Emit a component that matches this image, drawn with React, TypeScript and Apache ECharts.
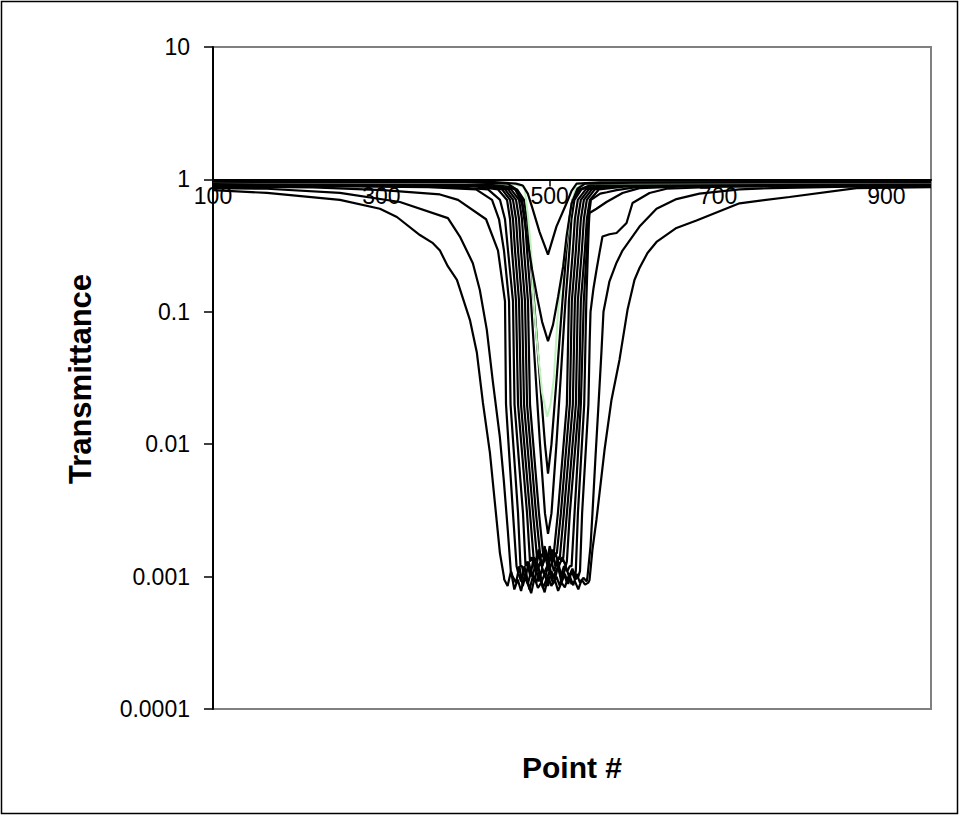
import React, { useEffect, useRef } from "react";
import * as echarts from "echarts";

type Pt = [number, number];

// Axis ticks
const xTicks = [100, 300, 500, 700, 900];
const xMin = 100;
const xMax = 953;
const yMin = 0.0001;
const yMax = 10;

// Transmittance traces, widest (deepest) first: [point #, transmittance]
const curveA: Pt[] = [
  [100, 0.83], [164.1, 0.79], [250.8, 0.7], [298.3, 0.6], [318.5, 0.52], [345.8, 0.38], [361.3, 0.33],
  [369.6, 0.29], [379.1, 0.22], [389.8, 0.174], [405.2, 0.087], [413.5, 0.049], [420.7, 0.0205],
  [429, 0.0086], [434.9, 0.0036], [440.9, 0.0015], [445.6, 0.001],
  [446, 0.00095], [450, 0.00085], [454, 0.0011], [458, 0.0008], [462, 0.00095], [466, 0.00078],
  [470, 0.001], [474, 0.00088], [478, 0.00075], [482, 0.00098], [486, 0.00082], [490, 0.0009],
  [494, 0.00076], [498, 0.001], [502, 0.00085], [506, 0.00095], [510, 0.00078], [514, 0.0009],
  [518, 0.00083], [522, 0.001], [526, 0.00088], [530, 0.00092], [534, 0.0008], [538, 0.00095],
  [542, 0.00087], [546, 0.0009],
  [547.3, 0.00094], [550.8, 0.0016], [555.6, 0.0027], [565.1, 0.009], [573.4, 0.0216], [582.9, 0.0433],
  [592.4, 0.103], [600.7, 0.174], [606.7, 0.214], [616.2, 0.278], [626.9, 0.337], [650.6, 0.43],
  [674.4, 0.49], [725.5, 0.66], [784.9, 0.736], [864.4, 0.86], [953, 0.875],
];

const curveB: Pt[] = [
  [100, 0.86], [164.1, 0.85], [250.8, 0.79], [322.1, 0.675], [379.1, 0.51], [393.3, 0.37], [408.7, 0.233],
  [417, 0.146], [425.3, 0.073], [432.4, 0.03], [440.8, 0.0113], [445.5, 0.0053], [450.3, 0.0022],
  [453.8, 0.0011],
  [456, 0.001], [460, 0.0009], [464, 0.0012], [468, 0.00085], [472, 0.00105], [476, 0.0008],
  [480, 0.001], [484, 0.0009], [488, 0.0011], [492, 0.00082], [496, 0.00095], [500, 0.0011],
  [504, 0.00088], [508, 0.001], [512, 0.00085], [516, 0.0011], [520, 0.00092], [524, 0.001],
  [528, 0.00086], [532, 0.00105], [536, 0.0009], [540, 0.00098], [544, 0.00092],
  [544.9, 0.001], [548.5, 0.0017], [550.8, 0.003], [554.4, 0.008], [558, 0.02], [561.5, 0.05],
  [563.9, 0.1], [571, 0.17], [579.4, 0.235], [586.5, 0.29], [606.7, 0.44], [626.9, 0.6], [650.6, 0.71],
  [677.9, 0.78], [725.5, 0.84], [764.6, 0.86], [856, 0.88], [953, 0.885],
];

const curveC: Pt[] = [
  [100, 0.88], [218.8, 0.87], [301.9, 0.83], [369.6, 0.77], [391.1, 0.7], [424.4, 0.5], [438.6, 0.29],
  [446.9, 0.12], [448.1, 0.02], [456.4, 0.003], [460.6, 0.0012],
  [462, 0.0011], [466, 0.00092], [470, 0.0012], [474, 0.00088], [478, 0.0011], [482, 0.00095],
  [486, 0.00125], [490, 0.0009], [494, 0.00105], [498, 0.00085], [502, 0.0011], [506, 0.00095],
  [510, 0.0012], [514, 0.0009], [518, 0.00105], [522, 0.00088], [526, 0.0011], [530, 0.00095],
  [534, 0.001],
  [536, 0.0011], [538.5, 0.003], [546, 0.02], [547.5, 0.06], [548.5, 0.1], [552, 0.15], [555.6, 0.207],
  [559.2, 0.28], [562.7, 0.37], [571, 0.385], [579.4, 0.394], [591.3, 0.468], [598.4, 0.663],
  [618.6, 0.79], [638.8, 0.85], [701.7, 0.88], [796.7, 0.89], [953, 0.895],
];

const curveD: Pt[] = [
  [100, 0.89], [262.7, 0.885], [355.5, 0.875], [412.5, 0.84], [431.5, 0.7], [439.8, 0.5], [445.7, 0.29],
  [451.7, 0.12], [453.5, 0.02], [462.4, 0.003], [465.3, 0.0012],
  [467, 0.0012], [471, 0.00095], [475, 0.0013], [479, 0.001], [483, 0.0012], [487, 0.00092],
  [491, 0.00115], [495, 0.001], [499, 0.0013], [503, 0.00095], [507, 0.0011], [511, 0.0012],
  [515, 0.00095], [519, 0.0012], [523, 0.001], [527, 0.00115], [530, 0.001],
  [531, 0.0011], [533.5, 0.003], [541, 0.02], [543.5, 0.12], [545.5, 0.3], [546.5, 0.45], [547.3, 0.558],
  [555.6, 0.6], [567.5, 0.675], [586.5, 0.79], [606.7, 0.86], [654.2, 0.88], [749.2, 0.895], [953, 0.9],
];

const curveE: Pt[] = [
  [100, 0.9], [300, 0.895], [379.2, 0.88], [426.7, 0.84], [441, 0.7], [446.9, 0.5], [450.5, 0.29],
  [456.4, 0.12], [458.2, 0.02], [468.3, 0.003], [471.3, 0.0012],
  [473, 0.0013], [477, 0.001], [481, 0.0014], [485, 0.0011], [489, 0.0013], [493, 0.00105],
  [497, 0.0012], [501, 0.0014], [505, 0.0011], [509, 0.0013], [513, 0.001], [517, 0.0012],
  [521, 0.0011], [524, 0.0012],
  [526, 0.0012], [529.5, 0.003], [537, 0.02], [540.5, 0.12], [544, 0.29], [546, 0.5], [549, 0.7],
  [560, 0.78], [568, 0.8], [579.4, 0.83], [606.7, 0.88], [677.9, 0.9], [953, 0.905],
];

const curveF: Pt[] = [
  [100, 0.91], [300, 0.905], [408.9, 0.89], [438.6, 0.84], [449.3, 0.7], [452.9, 0.5], [455.2, 0.29],
  [460, 0.12], [462.4, 0.02], [473.1, 0.003], [476.6, 0.0013],
  [479, 0.0014], [483, 0.0011], [487, 0.0015], [491, 0.0012], [495, 0.0014], [499, 0.0011],
  [503, 0.0013], [507, 0.0015], [511, 0.0012], [515, 0.0014], [519, 0.0012],
  [520.4, 0.0013], [523.9, 0.003], [534.6, 0.02], [537, 0.12], [541.8, 0.29], [544.1, 0.5],
  [547.7, 0.7], [558.4, 0.84], [588.1, 0.88], [700, 0.905], [953, 0.91],
];

const curveG: Pt[] = [
  [100, 0.92], [320, 0.915], [417.2, 0.9], [443.4, 0.84], [452.9, 0.7], [456.4, 0.5], [458.8, 0.29],
  [463.6, 0.12], [465.9, 0.02], [476.6, 0.003], [480.8, 0.0014],
  [483, 0.0013], [487, 0.0016], [491, 0.0012], [495, 0.0015], [499, 0.0013], [503, 0.0016],
  [507, 0.0012], [511, 0.0014], [515, 0.0013],
  [516.2, 0.0014], [520.4, 0.003], [531.1, 0.02], [533.4, 0.12], [538.2, 0.29], [540.6, 0.5],
  [544.1, 0.7], [553.6, 0.84], [579.8, 0.89], [680, 0.91], [953, 0.915],
];

const curveH: Pt[] = [
  [100, 0.93], [340, 0.925], [424.4, 0.91], [446.9, 0.84], [456.4, 0.7], [460, 0.5], [462.4, 0.29],
  [467.1, 0.12], [469.5, 0.02], [480.2, 0.003], [484.9, 0.0014],
  [487, 0.0015], [491, 0.0012], [495, 0.0016], [499, 0.0013], [503, 0.0015], [507, 0.0012],
  [511, 0.0014],
  [512.1, 0.0014], [516.8, 0.003], [527.5, 0.02], [529.9, 0.12], [534.6, 0.29], [537, 0.5],
  [540.6, 0.7], [550.1, 0.84], [572.6, 0.9], [660, 0.915], [953, 0.92],
];

const curveI: Pt[] = [
  [100, 0.935], [350, 0.93], [430.3, 0.915], [450.5, 0.84], [460, 0.7], [463.6, 0.5], [465.9, 0.29],
  [470.7, 0.12], [473.1, 0.02], [483.7, 0.003], [488.5, 0.0015],
  [491, 0.0014], [494, 0.0017], [497, 0.0013], [500, 0.0016], [503, 0.0013], [506, 0.0015],
  [508.5, 0.0015], [513.3, 0.003], [523.9, 0.02], [526.3, 0.12], [531.1, 0.29], [533.4, 0.5],
  [537, 0.7], [546.5, 0.84], [566.7, 0.905], [640, 0.92], [953, 0.925],
];

const curveJ: Pt[] = [
  [100, 0.94], [360, 0.935], [436.2, 0.92], [454.1, 0.84], [463.6, 0.7], [467.1, 0.5], [469.5, 0.29],
  [474.2, 0.12], [476.6, 0.02], [487.3, 0.003], [492.1, 0.0015],
  [494, 0.0016], [497, 0.0013], [500, 0.0017], [503, 0.0014],
  [504.9, 0.0015], [509.7, 0.003], [520.4, 0.02], [522.8, 0.12], [527.5, 0.29], [529.9, 0.5],
  [533.4, 0.7], [542.9, 0.84], [560.8, 0.91], [620, 0.925], [953, 0.93],
];

const curveK: Pt[] = [
  [100, 0.945], [380, 0.94], [442.2, 0.92], [458.8, 0.84], [467.1, 0.7], [470.7, 0.5], [473.1, 0.29],
  [477.8, 0.12], [483.7, 0.03], [488.5, 0.01], [494.4, 0.003], [498, 0.0021], [502.1, 0.003],
  [508, 0.01], [512.8, 0.03], [518.7, 0.12], [523.4, 0.29], [525.8, 0.5], [529.4, 0.7], [537.7, 0.84],
  [554.3, 0.915], [620, 0.93], [953, 0.935],
];

const curveL: Pt[] = [
  [100, 0.95], [400, 0.945], [445.7, 0.925], [461.2, 0.84], [469.5, 0.7], [473.1, 0.5], [476.6, 0.29],
  [481.4, 0.12], [488.5, 0.03], [494.4, 0.01], [498, 0.006], [502.1, 0.01], [508, 0.03], [515.1, 0.12],
  [519.9, 0.29], [523.4, 0.5], [527, 0.7], [535.3, 0.84], [550.8, 0.92], [620, 0.935], [953, 0.94],
];

const curveM: Pt[] = [
  [100, 0.955], [430, 0.945], [462, 0.9], [470, 0.88], [474, 0.54], [478, 0.29], [480, 0.146], [485, 0.058],
  [491, 0.0245], [497, 0.0161], [501, 0.02], [505, 0.032], [510, 0.103], [516, 0.225], [522, 0.415],
  [526, 0.66], [531, 0.86], [542, 0.93], [953, 0.945],
];

const curveN: Pt[] = [
  [100, 0.96], [400, 0.955], [450, 0.93], [459, 0.85], [467, 0.66], [473, 0.37], [479, 0.21], [485, 0.13],
  [491, 0.084], [498, 0.06], [504, 0.08], [510, 0.13], [516, 0.22], [520, 0.37], [526, 0.66], [533, 0.85],
  [542, 0.93], [600, 0.945], [953, 0.95],
];

const curveO: Pt[] = [
  [100, 0.965], [300, 0.965], [430, 0.96], [460, 0.93], [468, 0.9], [474, 0.78], [479, 0.62], [488, 0.4],
  [498, 0.27], [508, 0.44], [520, 0.66], [526, 0.82], [532, 0.93], [560, 0.95], [953, 0.955],
];

const blackCurves: Pt[][] = [
  curveA, curveB, curveC, curveD, curveE, curveF, curveG, curveH, curveI, curveJ, curveK, curveL,
];
const greenCurve = curveM;
const shallowCurves: Pt[][] = [curveN, curveO];

const FONT = '"Liberation Sans", Arial, Helvetica, sans-serif';

function fmtDecade(v: number): string {
  const e = Math.round(Math.log10(v));
  if (e >= 0) return String(Math.pow(10, e));
  return "0." + "0".repeat(-e - 1) + "1";
}

export default function App() {
  const ref = useRef<HTMLDivElement>(null);

  useEffect(() => {
    if (!ref.current) return;
    const chart = echarts.init(ref.current, undefined, { renderer: "svg" });

    const lineSeries = (data: Pt[], color: string, width: number) => ({
      type: "line" as const,
      data,
      showSymbol: false,
      symbol: "none",
      lineStyle: { color, width },
      silent: true,
      z: 3,
    });

    const series = [
      ...blackCurves.map((d) => lineSeries(d, "#000000", 2.2)),
      lineSeries(greenCurve, "#bdf2bd", 2),
      ...shallowCurves.map((d) => lineSeries(d, "#000000", 2.2)),
    ];

    const gridTop = 47;
    const gridHeight = 662;
    // the horizontal axis crosses the log axis at transmittance = 1
    const crossFrac = Math.log10(yMax / 1) / Math.log10(yMax / yMin);
    const xOffset = -(gridHeight - crossFrac * gridHeight);

    chart.setOption({
      animation: false,
      backgroundColor: "#ffffff",
      grid: {
        left: 213,
        top: gridTop,
        width: 718,
        height: gridHeight,
        show: true,
        borderColor: "#808080",
        borderWidth: 2,
        backgroundColor: "transparent",
        containLabel: false,
      },
      xAxis: {
        type: "value",
        min: xMin,
        max: xMax,
        offset: xOffset,
        axisLine: { show: true, lineStyle: { color: "#000", width: 2 } },
        axisTick: { show: true, customValues: xTicks, length: 7, lineStyle: { color: "#000", width: 1.5 } },
        axisLabel: {
          customValues: xTicks,
          color: "#000",
          fontFamily: FONT,
          fontSize: 23,
          margin: 5,
        },
        splitLine: { show: false },
      },
      yAxis: {
        type: "log",
        logBase: 10,
        min: yMin,
        max: yMax,
        splitNumber: 5,
        axisLine: { show: true, lineStyle: { color: "#000", width: 2 } },
        axisTick: { show: true, length: 9, lineStyle: { color: "#000", width: 1.5 } },
        axisLabel: {
          color: "#000",
          fontFamily: FONT,
          fontSize: 23,
          margin: 23,
          formatter: (v: number) => fmtDecade(v),
        },
        splitLine: { show: false },
        minorTick: { show: false },
      },
      series,
      graphic: [
        {
          type: "rect",
          silent: true,
          shape: { x: 1.5, y: 1.5, width: 956, height: 812 },
          style: { fill: "none", stroke: "#000", lineWidth: 1.5 },
        },
        {
          type: "text",
          silent: true,
          x: 80,
          y: 379,
          rotation: Math.PI / 2,
          style: {
            text: "Transmittance",
            font: `bold 31px ${FONT}`,
            fill: "#000",
            align: "center",
            verticalAlign: "middle",
          },
        },
        {
          type: "text",
          silent: true,
          x: 572,
          y: 767,
          style: {
            text: "Point #",
            font: `bold 30px ${FONT}`,
            fill: "#000",
            align: "center",
            verticalAlign: "middle",
          },
        },
      ],
    });

    return () => chart.dispose();
  }, []);

  return (
    <div
      ref={ref}
      style={{ position: "absolute", left: 0, top: 0, width: 960, height: 816, background: "#fff" }}
    />
  );
}
